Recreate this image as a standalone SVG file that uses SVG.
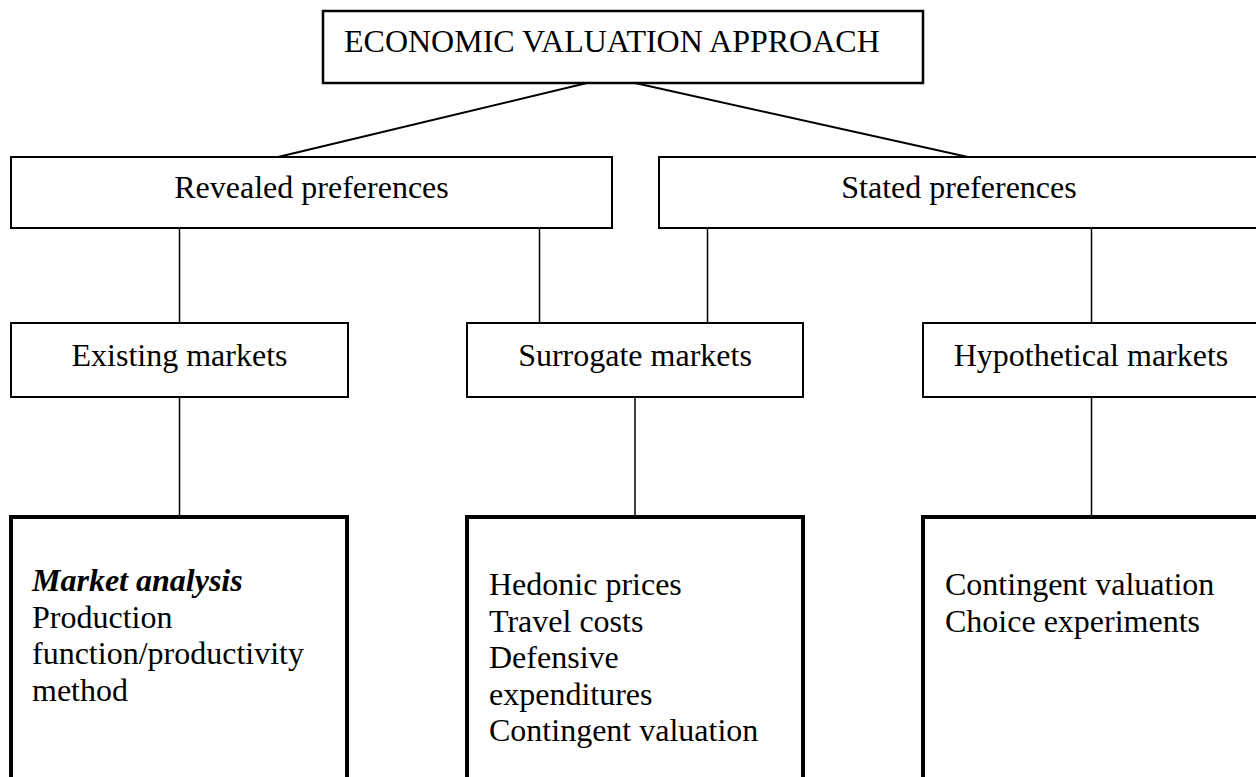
<svg xmlns="http://www.w3.org/2000/svg" width="1256" height="777" viewBox="0 0 1256 777">
<style>
  text { font-family: "Liberation Serif", "Times New Roman", serif; font-size: 32px; fill: #000; }
  .c { text-anchor: middle; }
  .box { fill: #fff; stroke: #000; stroke-width: 2; }
  .top { fill: #fff; stroke: #000; stroke-width: 2.5; }
  .big { fill: #fff; stroke: #000; stroke-width: 4; }
  .conn line { stroke: #000; stroke-width: 1.5; }
  .conn .diag { stroke-width: 2; }
  .bi { font-weight: bold; font-style: italic; }
</style>
<rect width="1256" height="777" fill="#fff"/>
<g id="connectors" class="conn">
  <line class="diag" x1="587" y1="83" x2="278" y2="157"/>
  <line class="diag" x1="635" y1="83" x2="968" y2="157"/>
  <line x1="179.5" y1="228" x2="179.5" y2="323"/>
  <line x1="539.5" y1="228" x2="539.5" y2="323"/>
  <line x1="707.5" y1="228" x2="707.5" y2="323"/>
  <line x1="1091.5" y1="228" x2="1091.5" y2="323"/>
  <line x1="179.5" y1="397" x2="179.5" y2="517"/>
  <line x1="635" y1="397" x2="635" y2="517"/>
  <line x1="1091.5" y1="397" x2="1091.5" y2="517"/>
</g>
<g id="economic-valuation-approach">
  <rect class="top" x="323" y="11" width="600" height="72"/>
  <text x="344" y="52">ECONOMIC VALUATION APPROACH</text>
</g>
<g id="revealed-preferences">
  <rect class="box" x="11" y="157" width="601" height="71"/>
  <text class="c" x="311.5" y="198">Revealed preferences</text>
</g>
<g id="stated-preferences">
  <rect class="box" x="659" y="157" width="620" height="71"/>
  <text class="c" x="959" y="198">Stated preferences</text>
</g>
<g id="existing-markets">
  <rect class="box" x="11" y="323" width="337" height="74"/>
  <text class="c" x="179.5" y="366">Existing markets</text>
</g>
<g id="surrogate-markets">
  <rect class="box" x="467" y="323" width="336" height="74"/>
  <text class="c" x="635" y="366">Surrogate markets</text>
</g>
<g id="hypothetical-markets">
  <rect class="box" x="923" y="323" width="360" height="74"/>
  <text class="c" x="1091" y="366">Hypothetical markets</text>
</g>
<g id="existing-methods">
  <rect class="big" x="11" y="517" width="336" height="300"/>
  <text x="32" y="591" class="bi">Market analysis</text>
  <text x="32" y="627.5">Production</text>
  <text x="32" y="664">function/productivity</text>
  <text x="32" y="700.5">method</text>
</g>
<g id="surrogate-methods">
  <rect class="big" x="467" y="517" width="336" height="300"/>
  <text x="489" y="595">Hedonic prices</text>
  <text x="489" y="631.5">Travel costs</text>
  <text x="489" y="668">Defensive</text>
  <text x="489" y="704.5">expenditures</text>
  <text x="489" y="741">Contingent valuation</text>
</g>
<g id="hypothetical-methods">
  <rect class="big" x="923" y="517" width="400" height="300"/>
  <text x="945" y="595">Contingent valuation</text>
  <text x="945" y="631.5">Choice experiments</text>
</g>
</svg>
